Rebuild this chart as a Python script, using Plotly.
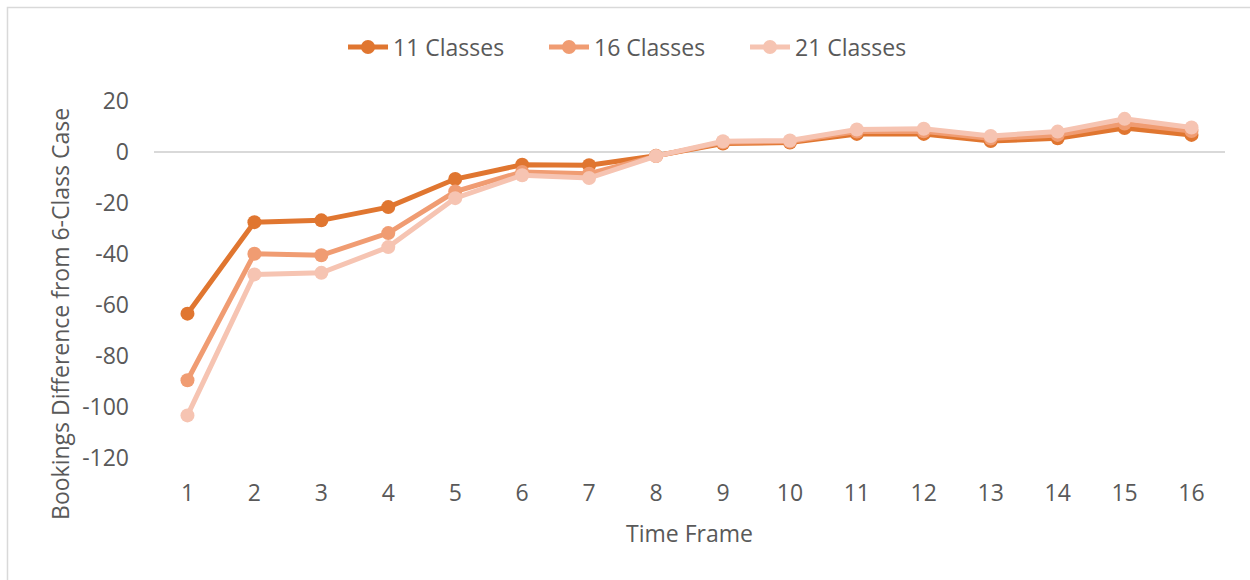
import plotly.graph_objects as go

time_frames = list(range(1, 17))
classes_11 = [-63.4, -27.5, -26.8, -21.6, -10.6, -5.0, -5.2, -1.5, 3.3, 3.7, 7.1, 7.1, 4.3, 5.4, 9.4, 6.7]
classes_16 = [-89.5, -39.9, -40.5, -31.8, -15.5, -7.8, -8.5, -1.6, 3.8, 4.1, 8.0, 8.1, 5.3, 6.7, 11.2, 8.2]
classes_21 = [-103.3, -48.0, -47.4, -37.3, -18.1, -9.1, -10.2, -1.6, 4.2, 4.5, 8.8, 9.1, 6.3, 8.0, 13.0, 9.6]
y_ticks = [20, 0, -20, -40, -60, -80, -100, -120]
y_tick_text = ["20", "0", "-20", "-40", "-60", "-80", "-100", "-120"]

series = [
    ("11 Classes", classes_11, "#E07630"),
    ("16 Classes", classes_16, "#F09C72"),
    ("21 Classes", classes_21, "#F6C4B2"),
]

FONT = "Open Sans"
GREY = "#595959"
FS = 23

fig = go.Figure()
for name, vals, col in series:
    fig.add_trace(go.Scatter(
        x=time_frames, y=vals, name=name, mode="lines+markers",
        line=dict(color=col, width=5),
        marker=dict(color=col, size=14),
    ))

fig.update_layout(
    width=1250, height=580,
    margin=dict(l=154, r=25, t=101, b=122),
    paper_bgcolor="white", plot_bgcolor="white",
    font=dict(family=FONT, color=GREY, size=FS),
    showlegend=True,
    legend=dict(
        orientation="h", x=0.458, xanchor="center", y=1.151, yanchor="middle",
        font=dict(family=FONT, color=GREY, size=FS),
        entrywidth=146, itemwidth=40,
    ),
    xaxis=dict(
        range=[0.5, 16.5], tickmode="array", tickvals=time_frames,
        ticktext=[str(t) for t in time_frames],
        showgrid=False, zeroline=False, showline=False,
        ticks="", ticklabelstandoff=19,
        title=dict(text="Time Frame", font=dict(family=FONT, color=GREY, size=FS), standoff=18),
        tickfont=dict(family=FONT, color=GREY, size=FS),
    ),
    yaxis=dict(
        range=[-120, 20], tickmode="array", tickvals=y_ticks, ticktext=y_tick_text,
        showgrid=False, zeroline=True, zerolinecolor="#D9D9D9", zerolinewidth=1.5,
        showline=False, ticks="", ticklabelstandoff=24,
        tickfont=dict(family=FONT, color=GREY, size=FS),
    ),
    annotations=[dict(
        text="Bookings Difference from 6-Class Case", textangle=-90,
        xref="paper", yref="paper", x=-0.0878, y=0.4034,
        xanchor="center", yanchor="middle", showarrow=False,
        font=dict(family=FONT, color=GREY, size=FS),
    )],
    shapes=[dict(type="rect", xref="paper", yref="paper",
                 x0=-0.1368, x1=1.2, y0=-0.6, y1=1.2619,
                 line=dict(color="#D9D9D9", width=1.5), fillcolor="rgba(0,0,0,0)",
                 layer="below")],
)

fig.write_html("out.html")
